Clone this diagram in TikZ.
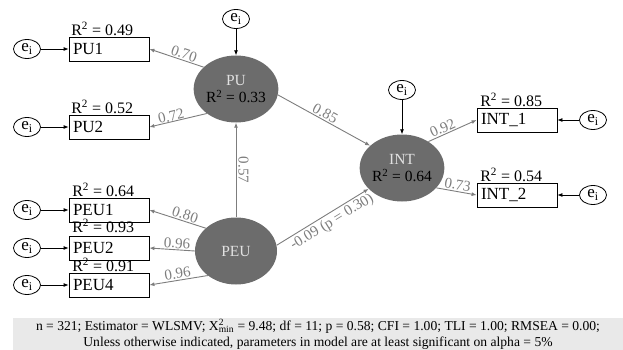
\documentclass[tikz,border=0pt]{standalone}
\usepackage{fontspec}
\setmainfont{Liberation Serif}
\usetikzlibrary{shapes.geometric, arrows.meta, positioning}
\definecolor{latgray}{RGB}{108,108,108}
\definecolor{pathgray}{RGB}{125,125,125}
\definecolor{namegray}{RGB}{225,225,225}
\definecolor{notegray}{RGB}{233,233,233}

\begin{document}
\begin{tikzpicture}[
    x=1pt, y=-1pt,
    latent/.style={ellipse, fill=latgray, minimum width=82pt, minimum height=67pt, inner sep=0pt, align=center, font=\fontsize{15.5}{17}\selectfont},
    item/.style={rectangle, draw, line width=0.8pt, minimum width=80pt, minimum height=24pt, text width=72pt, inner xsep=4pt, inner ysep=0pt, align=left, font=\fontsize{17}{19}\selectfont},
    err/.style={ellipse, draw, line width=0.8pt, minimum width=27pt, minimum height=19pt, inner sep=0pt, font=\fontsize{17}{19}\selectfont},
    rsq/.style={anchor=south west, inner sep=0.5pt, font=\fontsize{16}{18}\selectfont},
    load/.style={-{Latex[length=5pt,width=4pt]}, draw=pathgray, line width=0.9pt},
    errpath/.style={-{Latex[length=5pt,width=4pt]}, line width=0.8pt},
    coef/.style={sloped, text=pathgray, inner sep=1pt, font=\fontsize{15}{17}\selectfont},
    note/.style={rectangle, fill=notegray, minimum width=610pt, minimum height=32pt, inner sep=0pt, align=center, font=\fontsize{13.6}{15.5}\selectfont}
]
\useasboundingbox (0,0) rectangle (623,350);

% Latent variables
\node[latent] (pu) at (236,89) {\textcolor{namegray}{PU}\\R\textsuperscript{2} = 0.33};
\node[latent] (int) at (402,168) {\textcolor{namegray}{INT}\\R\textsuperscript{2} = 0.64};
\node[latent] (peu) at (236,251) {\textcolor{namegray}{PEU}};

% Indicators
\node[item] (pu1) at (109,49) {PU1};
\node[item] (pu2) at (109,127) {PU2};
\node[item] (peu1) at (109,210) {PEU1};
\node[item] (peu2) at (109,248) {PEU2};
\node[item] (peu4) at (109,285) {PEU4};
\node[item] (int1) at (517,120) {INT\_1};
\node[item] (int2) at (517,195) {INT\_2};

% R squared
\node[rsq] (r2pu1) at ([xshift=2pt]pu1.north west) {R\textsuperscript{2} = 0.49};
\node[rsq] (r2pu2) at ([xshift=2pt]pu2.north west) {R\textsuperscript{2} = 0.52};
\node[rsq] (r2peu1) at ([xshift=3pt]peu1.north west) {R\textsuperscript{2} = 0.64};
\node[rsq] (r2peu2) at ([xshift=3pt,yshift=2pt]peu2.north west) {R\textsuperscript{2} = 0.93};
\node[rsq] (r2peu4) at ([xshift=3pt]peu4.north west) {R\textsuperscript{2} = 0.91};
\node[rsq] (r2int1) at ([xshift=3pt]int1.north west) {R\textsuperscript{2} = 0.85};
\node[rsq] (r2int2) at ([xshift=3pt]int2.north west) {R\textsuperscript{2} = 0.54};

% Error terms
\node[err] (epu1) at (27,49) {e\textsubscript{i}};
\node[err] (epu2) at (27,127) {e\textsubscript{i}};
\node[err] (epeu1) at (27,210) {e\textsubscript{i}};
\node[err] (epeu2) at (27,248) {e\textsubscript{i}};
\node[err] (epeu4) at (27,285) {e\textsubscript{i}};
\node[err] (epu) at (236,19) {e\textsubscript{i}};
\node[err] (eint) at (402,90) {e\textsubscript{i}};
\node[err] (eint1) at (593,120) {e\textsubscript{i}};
\node[err] (eint2) at (593,195) {e\textsubscript{i}};

\draw[errpath] (epu1) -- (pu1);
\draw[errpath] (epu2) -- (pu2);
\draw[errpath] (epeu1) -- (peu1);
\draw[errpath] (epeu2) -- (peu2);
\draw[errpath] (epeu4) -- (peu4);
\draw[errpath] (epu) -- (pu);
\draw[errpath] (eint) -- (int);
\draw[errpath] (eint1) -- (int1);
\draw[errpath] (eint2) -- (int2);

% Loadings
\draw[load] (pu.146) -- node[coef, above, pos=0.4] {0.70} (pu1.east);
\draw[load] (pu.220) -- node[coef, above, pos=0.6, inner sep=0pt] {0.72} (pu2.east);
\draw[load] (peu.143) -- node[coef, above, pos=0.4] {0.80} (peu1.east);
\draw[load] (peu.180) -- node[coef, above, pos=0.4] {0.96} (peu2.east);
\draw[load] (peu.221) -- node[coef, above, pos=0.5] {0.96} (peu4.east);
\draw[load] (int.45) -- node[coef, above, pos=0.35] {0.92} (int1.west);
\draw[load] (int.-30) -- node[coef, above, pos=0.5] {0.73} (int2.west);

% Structural paths
\draw[load] (peu) -- node[text=pathgray, inner sep=2pt, font=\fontsize{15}{17}\selectfont, anchor=south, rotate=-90, pos=0.5] {0.57} (pu);
\draw[load] (pu.-8) -- node[coef, above, pos=0.48] {0.85} (int.145);
\draw[load] (peu.8) -- node[coef, below, pos=0.55, inner sep=2pt] {-0.09 (p = 0.30)} (int.212);

% Fit indices
\node[note] (fit) at (318,334) {n = 321; Estimator = WLSMV; X\rlap{\textsuperscript{2}}\textsubscript{min} = 9.48; df = 11; p = 0.58; CFI = 1.00; TLI = 1.00; RMSEA = 0.00;\\
Unless otherwise indicated, parameters in model are at least significant on alpha = 5\%};

\end{tikzpicture}
\end{document}
